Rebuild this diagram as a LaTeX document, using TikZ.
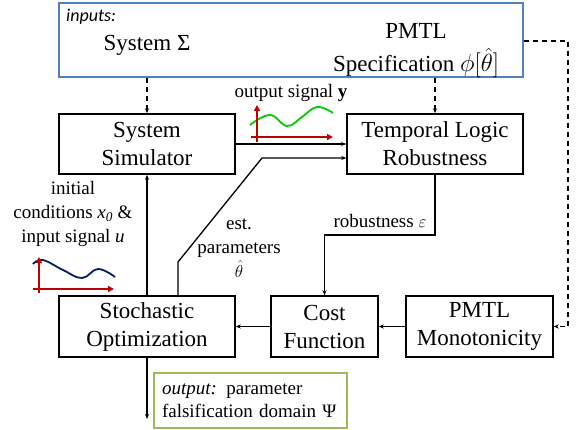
\documentclass[tikz,border=0pt]{standalone}
\usepackage{fontspec}
\setmainfont{LiberationSerif}[Extension=.ttf,UprightFont=*-Regular,BoldFont=*-Bold,ItalicFont=*-Italic,BoldItalicFont=*-BoldItalic]
\newfontfamily\calibri{Carlito}
\usetikzlibrary{arrows.meta}
\definecolor{inblue}{HTML}{4F81BD}
\definecolor{outgreen}{HTML}{9BBB59}
\definecolor{axred}{HTML}{C00000}
\definecolor{wavegreen}{HTML}{00CC00}
\definecolor{wavenavy}{HTML}{002060}
\begin{document}
\begin{tikzpicture}[x=1pt,y=-1pt,
  box/.style={draw,line width=1.5pt,minimum height=60pt,align=center,inner sep=0pt,font=\rmfamily\fontsize{23}{28}\selectfont},
  arr/.style={line width=1.3pt,-{Stealth[length=5pt,width=4pt]}},
  darr/.style={arr,dash pattern=on 5pt off 4pt},
  lbl/.style={font=\rmfamily\fontsize{19}{24}\selectfont,align=center,inner sep=0pt},
  big/.style={font=\rmfamily\fontsize{23}{28}\selectfont,inner sep=0pt},
  axis/.style={axred,line width=1.8pt,-{Triangle[length=6pt,width=6pt]}},
  wave/.style={line width=1.8pt},
]
\useasboundingbox (0,0) rectangle (577,430);
% inputs box
\node[draw=inblue,line width=1.5pt,minimum width=464pt,minimum height=74pt,inner sep=0pt] (inputs) at (291,40) {};
\node[anchor=west,font=\calibri\itshape\fontsize{18}{20}\selectfont,inner sep=0pt] (inlbl) at (66,17) {inputs:};
\node[big] (sys) at (147,45) {System Σ};
\node[big] (pmtl) at (416,31) {PMTL};
\node[big] (spec) at (416,63) {Specification $\phi[\hat{\theta}]$};
% blocks
\node[box,minimum width=176pt] (sim) at (147,144) {System\\Simulator};
\node[box,minimum width=176pt] (tlr) at (435,144) {Temporal Logic\\Robustness};
\node[box,minimum width=176pt,minimum height=61pt] (stoch) at (147,326.5) {Stochastic\\Optimization};
\node[box,minimum width=107pt,minimum height=61pt] (cost) at (324.5,326.5) {Cost\\Function};
\node[box,minimum width=147pt,minimum height=61pt] (mono) at (479.5,326.5) {PMTL\\Monotonicity};
% output box
\node[draw=outgreen,line width=1.5pt,minimum width=193pt,minimum height=55pt,align=left,inner xsep=8pt,inner ysep=0pt,text width=177pt,font=\rmfamily\fontsize{19}{23}\selectfont] (out) at (250.5,400.5) {\textit{output:} parameter\\falsification domain Ψ};
% labels
\node[lbl] (outsig) at (291,93) {output signal \textbf{y}};
\node[lbl] (rob) at (380,221) {robustness $\varepsilon$};
\node[lbl] (est) at (239,248) {est.\\parameters\\$\hat{\theta}$};
\node[lbl] (init) at (73,214) {initial\\conditions \textit{x}\textsubscript{\textit{0}} \&\\input signal \textit{u}};
% connectors
\draw[darr] (inputs.south -| sim.north) -- (sim.north);
\draw[darr] (inputs.south -| tlr.north) -- (tlr.north);
\draw[arr] (sim.east) -- (tlr.west);
\draw[arr] (stoch.north) -- (sim.south);
\coordinate (e1) at (178,262);
\coordinate (e2) at (262,158);
\draw[arr] (stoch.north -| e1) -- (e1) -- (e2) -- (e2 -| tlr.west);
\coordinate (r1) at (380,235);
\draw[arr] (tlr.south) |- (r1) -| (cost.north);
\draw[arr] (mono.west) -- (cost.east);
\draw[arr] (cost.west) -- (stoch.east);
\coordinate (d1) at (568,41);
\draw[darr] (inputs.east |- d1) -- (d1) |- (mono.east);
\coordinate (oe) at (147,419);
\draw[arr] (stoch.south) -- (oe);
% input signal sketch
\draw[wave,wavenavy] plot[smooth,tension=0.7] coordinates {(33,264) (43,260) (63,270) (82,278) (98,269) (115,277)};
\draw[axis] (33,289) -- (114,289);
\draw[axis] (39,293) -- (39,257);
% output signal sketch
\draw[wave,wavegreen] plot[smooth,tension=0.7] coordinates {(250,125) (270,115) (287,126) (302,117) (317,107) (333,113)};
\draw[axis] (251,137) -- (333,137);
\draw[axis] (257,142) -- (257,105);
\end{tikzpicture}
\end{document}
